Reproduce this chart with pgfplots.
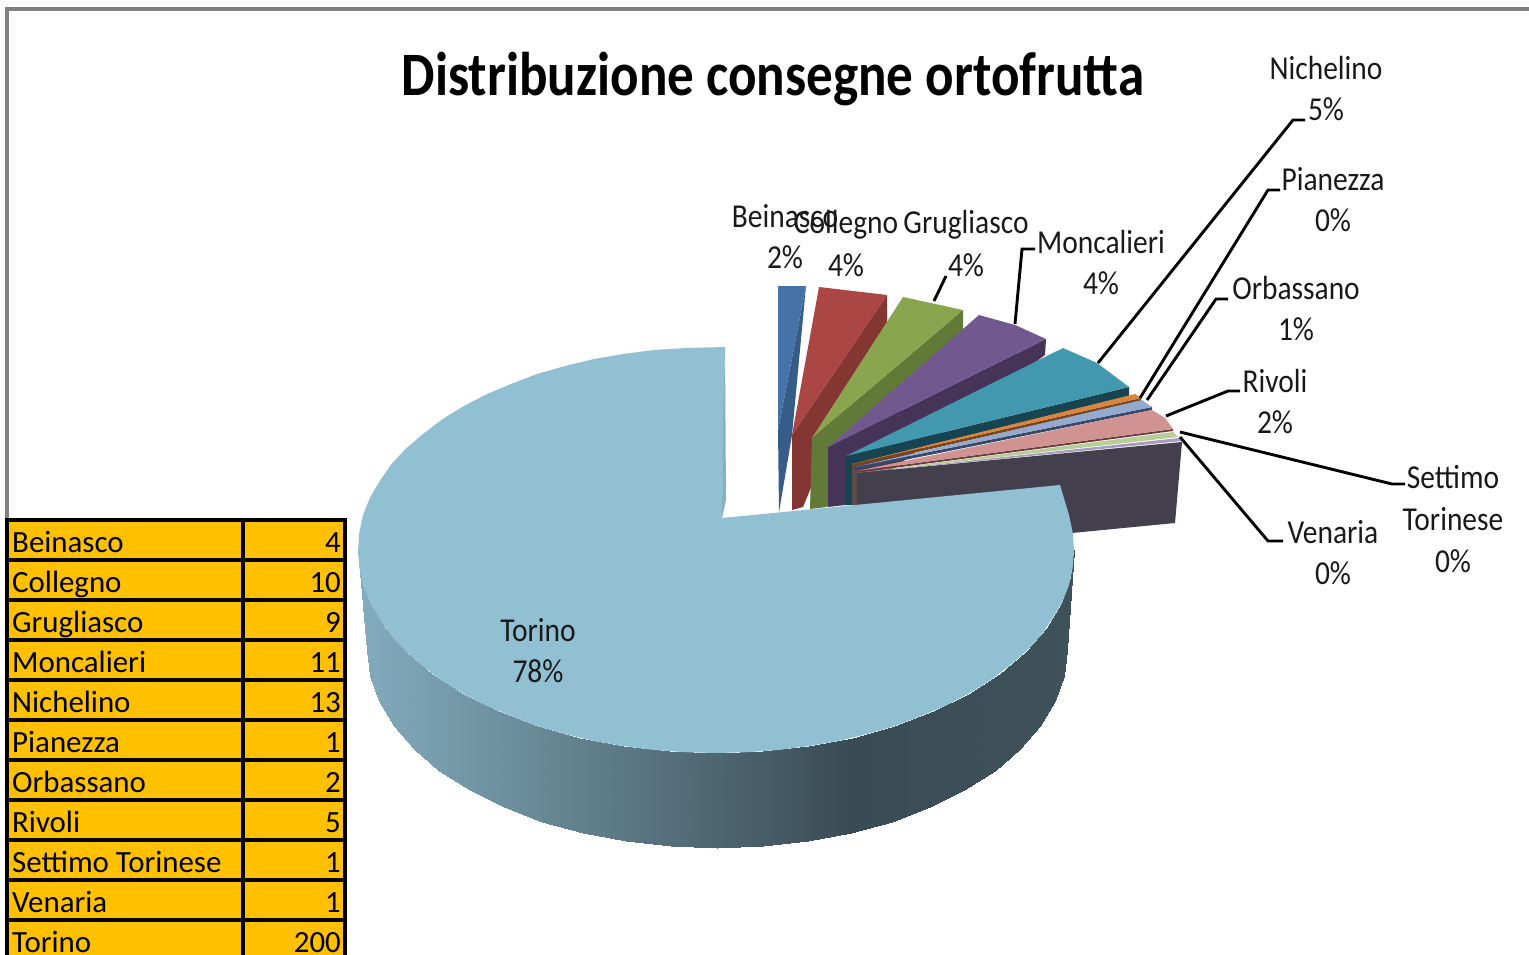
\documentclass[border=0pt]{standalone}
\usepackage{fontspec}
\setmainfont{Carlito}
\usepackage{pgfplots}
\pgfplotsset{compat=1.18}
\newfontfamily\lab[FakeStretch=0.88]{Carlito}
\newfontfamily\tit[FakeStretch=0.86]{Carlito Bold}
\definecolor{cella}{HTML}{FFC000}
\definecolor{blu}{HTML}{4572A7}\definecolor{bluS}{HTML}{365C8A}
\definecolor{ros}{HTML}{AA4643}\definecolor{rosS}{HTML}{843633}
\definecolor{ver}{HTML}{89A54E}\definecolor{verS}{HTML}{627A38}
\definecolor{vio}{HTML}{71588F}\definecolor{vioS}{HTML}{453358}
\definecolor{tea}{HTML}{4198AF}\definecolor{teaS}{HTML}{174450}
\definecolor{ora}{HTML}{DB843D}\definecolor{oraS}{HTML}{78461E}
\definecolor{azz}{HTML}{93A9CF}\definecolor{azzS}{HTML}{384866}
\definecolor{pin}{HTML}{D19392}\definecolor{pinS}{HTML}{6A3E3E}
\definecolor{lim}{HTML}{B9CD96}
\definecolor{lil}{HTML}{A99BBD}
\definecolor{scu}{HTML}{443F4C}
\definecolor{mix}{HTML}{5B4A4A}
\definecolor{tor}{HTML}{92C0D3}
\definecolor{torS}{HTML}{85B0C2}
\pgfplotsset{
  poly/.style={draw=none,fill=#1,forget plot},
  lead/.style={black,line width=2.9pt,forget plot},
  tline/.style={black,line width=3.3pt,forget plot},
}
\newcommand{\lbl}[3]{\node[font=\fontsize{33.6}{35}\selectfont\lab,text=black!90,inner sep=0pt,anchor=center] at (axis cs:#1,#2) {#3};}
\newcommand{\cell}[3]{\node[font=\fontsize{31}{33}\selectfont,inner sep=0pt,anchor=base west] at (axis cs:12,#1) {#2};
  \node[font=\fontsize{31}{33}\selectfont,inner sep=0pt,anchor=base east] at (axis cs:341,#1) {#3};}
\begin{document}
\begin{tikzpicture}
\path[use as bounding box] (0,0) rectangle (1529bp,955bp);
\begin{axis}[
  scale only axis,width=1529bp,height=955bp,
  xmin=0,xmax=1529,ymin=0,ymax=955,y dir=reverse,
  hide axis,clip=true,
  colormap={piano}{rgb255(0cm)=(131,172,190); rgb255(69cm)=(57,75,84); rgb255(100cm)=(63,81,89)},
]
% cornice
\addplot[color=black!50,line width=3.4pt,forget plot] coordinates {(7,520)(7,9)(1529,9)};

% tabella
\addplot[poly=cella] coordinates {(7,520)(345,520)(345,955)(7,955)};
\addplot[tline] coordinates {(7,955)(7,520)(345,520)(345,955)};
\addplot[tline] coordinates {(243,520)(243,955)};
\addplot[tline] coordinates {(7,560)(345,560)};
\addplot[tline] coordinates {(7,600)(345,600)};
\addplot[tline] coordinates {(7,640)(345,640)};
\addplot[tline] coordinates {(7,680)(345,680)};
\addplot[tline] coordinates {(7,720)(345,720)};
\addplot[tline] coordinates {(7,760)(345,760)};
\addplot[tline] coordinates {(7,800)(345,800)};
\addplot[tline] coordinates {(7,840)(345,840)};
\addplot[tline] coordinates {(7,880)(345,880)};
\addplot[tline] coordinates {(7,920)(345,920)};
\cell{552}{Beinasco}{4}
\cell{592}{Collegno}{10}
\cell{632}{Grugliasco}{9}
\cell{672}{Moncalieri}{11}
\cell{712}{Nichelino}{13}
\cell{752}{Pianezza}{1}
\cell{792}{Orbassano}{2}
\cell{832}{Rivoli}{5}
\cell{872}{Settimo Torinese}{1}
\cell{912}{Venaria}{1}
\cell{952}{Torino}{200}

% fette staccate: lato, poi faccia
\addplot[poly=bluS] coordinates {(806,286)(792,435)(779,512)(778,430)};
\addplot[poly=blu] coordinates {(778,286)(806,286)(778,430)};
\addplot[poly=rosS] coordinates {(887,295)(887,323)(810,490)(803,507)(792,510)(792,435)};
\addplot[poly=ros] coordinates {(819,287)(887,295)(792,435)};
\addplot[poly=verS] coordinates {(963,310)(963,330)(827,507)(810,509)(812,438)};
\addplot[poly=ver] coordinates {(903,297)(963,310)(812,438)};
\addplot[poly=vioS] coordinates {(1046,339)(1045,355)(845,505)(828,507)(828,447)};
\addplot[poly=vio] coordinates {(979,315)(1015,325)(1046,339)(828,447)};
\addplot[poly=teaS] coordinates {(1129,387)(1129,396)(852,464)(852,505)(845,505)(846,456)};
\addplot[poly=tea] coordinates {(1063,348)(1097,363)(1129,387)(846,456)};
\addplot[poly=mix] coordinates {(852,464)(857,473)(857,505)(852,505)};
\addplot[poly=oraS] coordinates {(1141,398)(1141,401)(852,467)(852,464)};
\addplot[poly=ora] coordinates {(1135,394)(1141,398)(852,464)};
\addplot[poly=azzS] coordinates {(1152,407)(1152,410)(855,470)(855,467)};
\addplot[poly=azz] coordinates {(1142,400)(1152,407)(855,467)};
\addplot[poly=pinS] coordinates {(1173,429)(1173,431)(856,473)(856,471)};
\addplot[poly=pin] coordinates {(1152,410)(1165,418)(1173,429)(856,471)};
\addplot[poly=lim] coordinates {(1173,432)(1178,437)(857,473)};
\addplot[poly=lil] coordinates {(1179,438)(1182,441)(857,473)};
% lato scuro di Torino
\addplot[poly=scu] coordinates {(857,473)(1182,442)(1175,523)(1072,533)(857,533)};

% Torino, lato sfumato
\addplot[surf,shader=interp,mesh/rows=2,point meta=x,forget plot] coordinates {
(358,550)(361,576.5)(370,602.5)(385.2,627.7)(406,651.5)(432,673.6)(463,693.5)(498,711)(537,726)(579,737.5)(623,746)(669.3,751.3)(716,753)(762.7,751.3)(809,746)(853,737.5)(895,726)(934,711)(969,693.5)(1000,673.6)(1026,651.5)(1046.8,627.7)(1062,602.5)(1071,576.5)(1074,550)

(367,650)(370,676)(379,701)(393.6,725.8)(414,749)(439.3,770.5)(470,790)(504,807)(542,821.5)(583,833)(626,841)(671.3,846.3)(717,848)(762.7,846.3)(808,841)(851,833)(892,821.5)(930,807)(964,790)(994.7,770.5)(1020,749)(1040.4,725.8)(1055,701)(1064,676)(1067,650)
};
% Torino, faccia
\addplot[poly=tor] coordinates {
(725,347)(685,348)(654,350)(623,354)(594,359)(565,366)(537,374)(511,384)(486,394.5)(463,406.5)(442,419.5)(423,434)(406,448.5)(391.5,464)(380,480.6)(370,497.5)(363,515)(359.4,532)(358,550)
(359.4,568)(363,585)(370,602.5)(380,619)(391.5,636)(406,651.5)(423,666)(442,680.5)(463,693.5)(486,705.5)(511,716)(537,726)(565,734)(594,741)(623,746)(654,750)(685,752.2)(716,753)
(747,752.2)(778,750)(809,746)(838,741)(867,734)(895,726)(921,716)(946,705.5)(969,693.5)(990,680.5)(1009,666)(1026,651.5)(1040.5,636)(1052,619)(1062,602.5)(1069,585)(1072.6,568)(1074,550)
(1072.6,532)(1069,515)(1060,485)(722,518)};
\addplot[poly=torS] coordinates {(725,347)(726,500)(722,518)(723,420)};

% linee guida
\addplot[lead] coordinates {(946,276)(934,301)};
\addplot[lead] coordinates {(1035,249)(1022,249)(1015,324)};
\addplot[lead] coordinates {(1305,120)(1293,120)(1098,363)};
\addplot[lead] coordinates {(1280,190)(1268,190)(1140,398)};
\addplot[lead] coordinates {(1228,299)(1216,299)(1147,400)};
\addplot[lead] coordinates {(1240,391)(1228,391)(1166,416)};
\addplot[lead] coordinates {(1405,484)(1392,484)(1180,432)};
\addplot[lead] coordinates {(1283,541)(1268,541)(1180,437)};

% titolo ed etichette
\node[font=\fontsize{62}{64}\selectfont\tit,inner sep=0pt,anchor=center] at (axis cs:773,79) {Distribuzione consegne ortofrutta};
\lbl{785}{216}{Beinasco}\lbl{785}{257}{2\%}
\lbl{846}{225}{Collegno}\lbl{846}{265}{4\%}
\lbl{966}{225}{Grugliasco}\lbl{966}{265}{4\%}
\lbl{1101}{242}{Moncalieri}\lbl{1101}{283}{4\%}
\lbl{1326}{68}{Nichelino}\lbl{1326}{109}{5\%}
\lbl{1333}{179}{Pianezza}\lbl{1333}{220}{0\%}
\lbl{1296}{288}{Orbassano}\lbl{1296}{329}{1\%}
\lbl{1275}{381}{Rivoli}\lbl{1275}{422}{2\%}
\lbl{1453}{477}{Settimo}\lbl{1453}{519}{Torinese}\lbl{1453}{561}{0\%}
\lbl{1333}{532}{Venaria}\lbl{1333}{573}{0\%}
\lbl{538}{630}{Torino}\lbl{538}{671}{78\%}
\end{axis}
\end{tikzpicture}
\end{document}
